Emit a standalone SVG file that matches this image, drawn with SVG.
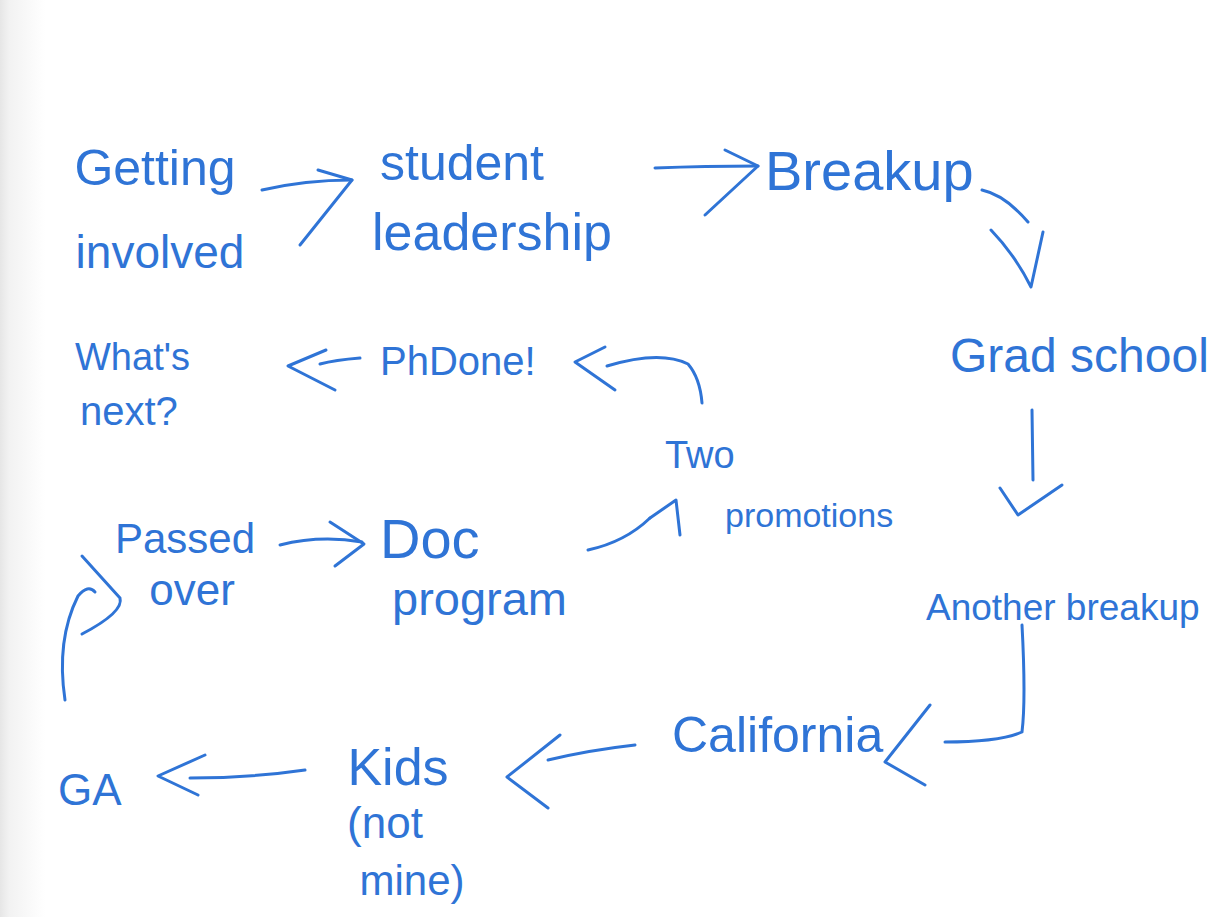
<svg xmlns="http://www.w3.org/2000/svg" width="1218" height="917" viewBox="0 0 1218 917">
<defs>
<linearGradient id="edge" x1="0" y1="0" x2="1" y2="0">
<stop offset="0" stop-color="#e6e6e6"/>
<stop offset="0.2" stop-color="#f2f2f2"/>
<stop offset="1" stop-color="#ffffff"/>
</linearGradient>
<style>
.t{font-family:"Liberation Sans","DejaVu Sans",sans-serif;fill:#2f74d6;}
.c path{fill:none;stroke:#2f74d6;stroke-width:3;stroke-linecap:round;stroke-linejoin:round;}
</style>
</defs>
<rect width="1218" height="917" fill="#ffffff"/>
<rect x="0" y="0" width="45" height="917" fill="url(#edge)"/>

<g id="getting-involved">
<text class="t" x="155" y="185" font-size="50" text-anchor="middle">Getting</text>
<text class="t" x="160" y="268" font-size="46" text-anchor="middle">involved</text>
</g>
<g id="student-leadership">
<text class="t" x="462" y="180" font-size="50" text-anchor="middle">student</text>
<text class="t" x="492" y="250" font-size="52" text-anchor="middle">leadership</text>
</g>
<g id="breakup">
<text class="t" x="765" y="190" font-size="56">Breakup</text>
</g>
<g id="grad-school">
<text class="t" x="950" y="372" font-size="48">Grad school</text>
</g>
<g id="another-breakup">
<text class="t" x="926" y="620" font-size="37">Another breakup</text>
</g>
<g id="california">
<text class="t" x="672" y="752" font-size="50">California</text>
</g>
<g id="kids">
<text class="t" x="398" y="785" font-size="52" text-anchor="middle">Kids</text>
<text class="t" x="385" y="838" font-size="44" text-anchor="middle">(not</text>
<text class="t" x="412" y="895" font-size="42" text-anchor="middle">mine)</text>
</g>
<g id="ga">
<text class="t" x="58" y="805" font-size="44">GA</text>
</g>
<g id="passed-over">
<text class="t" x="185" y="553" font-size="42" text-anchor="middle">Passed</text>
<text class="t" x="192" y="605" font-size="44" text-anchor="middle">over</text>
</g>
<g id="doc-program">
<text class="t" x="380" y="558" font-size="56">Doc</text>
<text class="t" x="392" y="615" font-size="47">program</text>
</g>
<g id="two-promotions">
<text class="t" x="665" y="468" font-size="38">Two</text>
<text class="t" x="725" y="527" font-size="34">promotions</text>
</g>
<g id="phdone">
<text class="t" x="380" y="375" font-size="40">PhDone!</text>
</g>
<g id="whats-next">
<text class="t" x="75" y="370" font-size="38">What's</text>
<text class="t" x="80" y="425" font-size="40">next?</text>
</g>

<g id="connectors" class="c">
<path d="M262,190 Q305,180 352,180"/>
<path d="M318,170 L352,180 L300,245"/>
<path d="M655,168 Q705,166 758,166"/>
<path d="M725,150 L758,166 L705,215"/>
<path d="M982,190 Q1005,195 1028,222"/>
<path d="M991,230 Q1015,255 1031,287 L1043,232"/>
<path d="M1032,410 L1033,480"/>
<path d="M1000,488 L1018,515 L1062,485"/>
<path d="M1022,625 Q1026,700 1022,732 Q1000,742 945,742"/>
<path d="M930,705 L885,762 L925,785"/>
<path d="M635,745 Q590,750 548,760"/>
<path d="M560,735 L507,777 L548,808"/>
<path d="M305,770 Q250,778 190,778"/>
<path d="M205,755 L158,776 L198,795"/>
<path d="M65,700 Q56,640 78,596 Q88,584 95,592"/>
<path d="M82,556 L120,598 Q124,612 82,634"/>
<path d="M280,545 Q320,535 362,542"/>
<path d="M330,522 L364,544 L335,566"/>
<path d="M588,550 Q625,542 650,518"/>
<path d="M650,518 L676,500 L680,535"/>
<path d="M702,403 Q700,378 688,364 Q660,350 607,366"/>
<path d="M605,347 L575,362 L615,390"/>
<path d="M360,358 Q335,360 320,364"/>
<path d="M326,350 L288,366 L335,390"/>
</g>
</svg>
